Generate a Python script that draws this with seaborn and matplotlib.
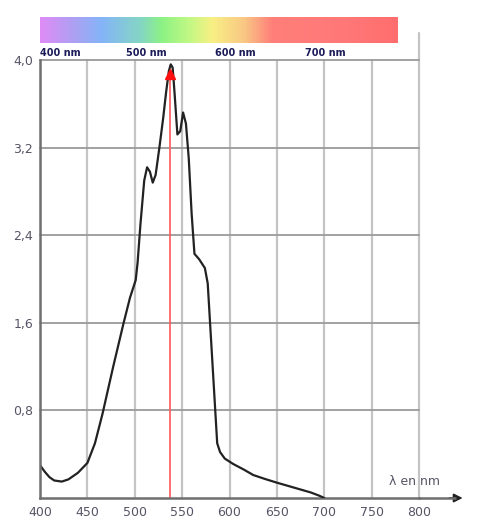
import numpy as np
import pandas as pd
import matplotlib
matplotlib.use("Agg")
import matplotlib.pyplot as plt
from matplotlib.colors import LinearSegmentedColormap
import seaborn as sns

# absorption spectrum
wavelength = [400, 405, 410, 415, 423, 430, 440, 450, 458, 466, 477, 488, 495, 501,
              503, 506, 510, 513, 516, 519, 522, 526, 530, 533, 536, 538, 540, 542,
              545, 548, 551, 554, 557, 560, 563, 568, 574, 577, 582, 587, 590, 595,
              604, 615, 625, 637, 650, 662, 674, 686, 695, 700]
absorbance = [0.30, 0.24, 0.19, 0.16, 0.15, 0.17, 0.23, 0.32, 0.50, 0.77, 1.19, 1.59, 1.83, 1.99,
              2.15, 2.50, 2.90, 3.02, 2.98, 2.88, 2.95, 3.20, 3.47, 3.70, 3.90, 3.96, 3.93, 3.70,
              3.32, 3.35, 3.52, 3.42, 3.10, 2.60, 2.23, 2.18, 2.10, 1.96, 1.23, 0.50, 0.42, 0.36,
              0.31, 0.26, 0.21, 0.175, 0.14, 0.11, 0.08, 0.05, 0.02, 0.0]
lambda_max = 537.5

x_ticks = [400, 450, 500, 550, 600, 650, 700, 750, 800]
y_ticks = [0.8, 1.6, 2.4, 3.2, 4.0]
y_tick_labels = ["0,8", "1,6", "2,4", "3,2", "4,0"]
band_labels = ["400 nm", "500 nm", "600 nm", "700 nm"]
band_label_pos = [0.0, 0.24, 0.49, 0.74]
band_colors = ["#de8cf6", "#a9a2f2", "#84b4f8", "#84d6c4", "#8cf284", "#c4f884",
               "#f8f084", "#f8c884", "#ff7f7a", "#ff7878", "#ff6e6e"]
band_stops = [0.0, 0.10, 0.17, 0.28, 0.34, 0.42, 0.48, 0.57, 0.65, 0.85, 1.0]

df = pd.DataFrame({"lambda": wavelength, "A": absorbance})

sns.set_style("white")
fig = plt.figure(figsize=(4.89, 5.29), dpi=100)
ax = fig.add_axes([0.0818, 0.0586, 0.7751, 0.828])

tick_col = "#555566"
# grid
for xv in x_ticks[1:]:
    ax.axvline(xv, color="#c4c4c4", lw=1.6, zorder=1,
               ymax=1.062 if xv == 800 else 1, clip_on=False)
for yv in y_ticks:
    ax.axhline(yv, color="#9a9a9a", lw=1.3, zorder=1, clip_on=False)

sns.lineplot(data=df, x="lambda", y="A", color="#222222", lw=1.6, ax=ax, zorder=3)

# red lambda max marker
ax.plot([lambda_max, lambda_max], [0, 3.86], color="#ff5a5a", lw=1.2, zorder=2)
ax.plot([lambda_max], [3.87], marker="^", color="#ff1010", ms=7, zorder=4)

ax.set_xlim(400, 800)
ax.set_ylim(0, 4.0)
ax.set_xticks(x_ticks)
ax.set_xticklabels([str(v) for v in x_ticks], color=tick_col, fontsize=9)
ax.set_yticks(y_ticks)
ax.set_yticklabels(y_tick_labels, color=tick_col, fontsize=9)
ax.tick_params(axis="y", length=4, width=1.2, color="#888888", pad=1)
ax.tick_params(axis="x", length=0, pad=6)
ax.set_xlabel("")
ax.set_ylabel("")
for s in ["top", "right"]:
    ax.spines[s].set_visible(False)
for s in ["left", "bottom"]:
    ax.spines[s].set_color("#6e6e6e")
    ax.spines[s].set_linewidth(1.8)
ax.spines["left"].set_zorder(5)

# x axis arrow
ax.plot([800, 838], [0, 0], color="#6e6e6e", lw=1.8, clip_on=False, zorder=5)
ax.annotate("", xy=(846, 0), xytext=(832, 0), annotation_clip=False,
            arrowprops=dict(arrowstyle="-|>", color="#222222", lw=1.2,
                            mutation_scale=13, shrinkA=0, shrinkB=0))
ax.text(795, 0.09, "λ en nm", color=tick_col, fontsize=9, ha="center", va="bottom")

# colour spectrum band
bax = fig.add_axes([0.0818, 0.9187, 0.732, 0.049])
cmap = LinearSegmentedColormap.from_list("spec", list(zip(band_stops, band_colors)))
bax.imshow(np.linspace(0, 1, 400)[None, :], aspect="auto", cmap=cmap,
           extent=[0, 1, 0, 1])
bax.set_axis_off()
for lab, pos in zip(band_labels, band_label_pos):
    fig.text(0.0818 + pos * 0.732, 0.910, lab, color="#1c1c5a", fontsize=7,
             fontweight="bold", ha="left", va="top")

fig.savefig("out.png", dpi=100)
